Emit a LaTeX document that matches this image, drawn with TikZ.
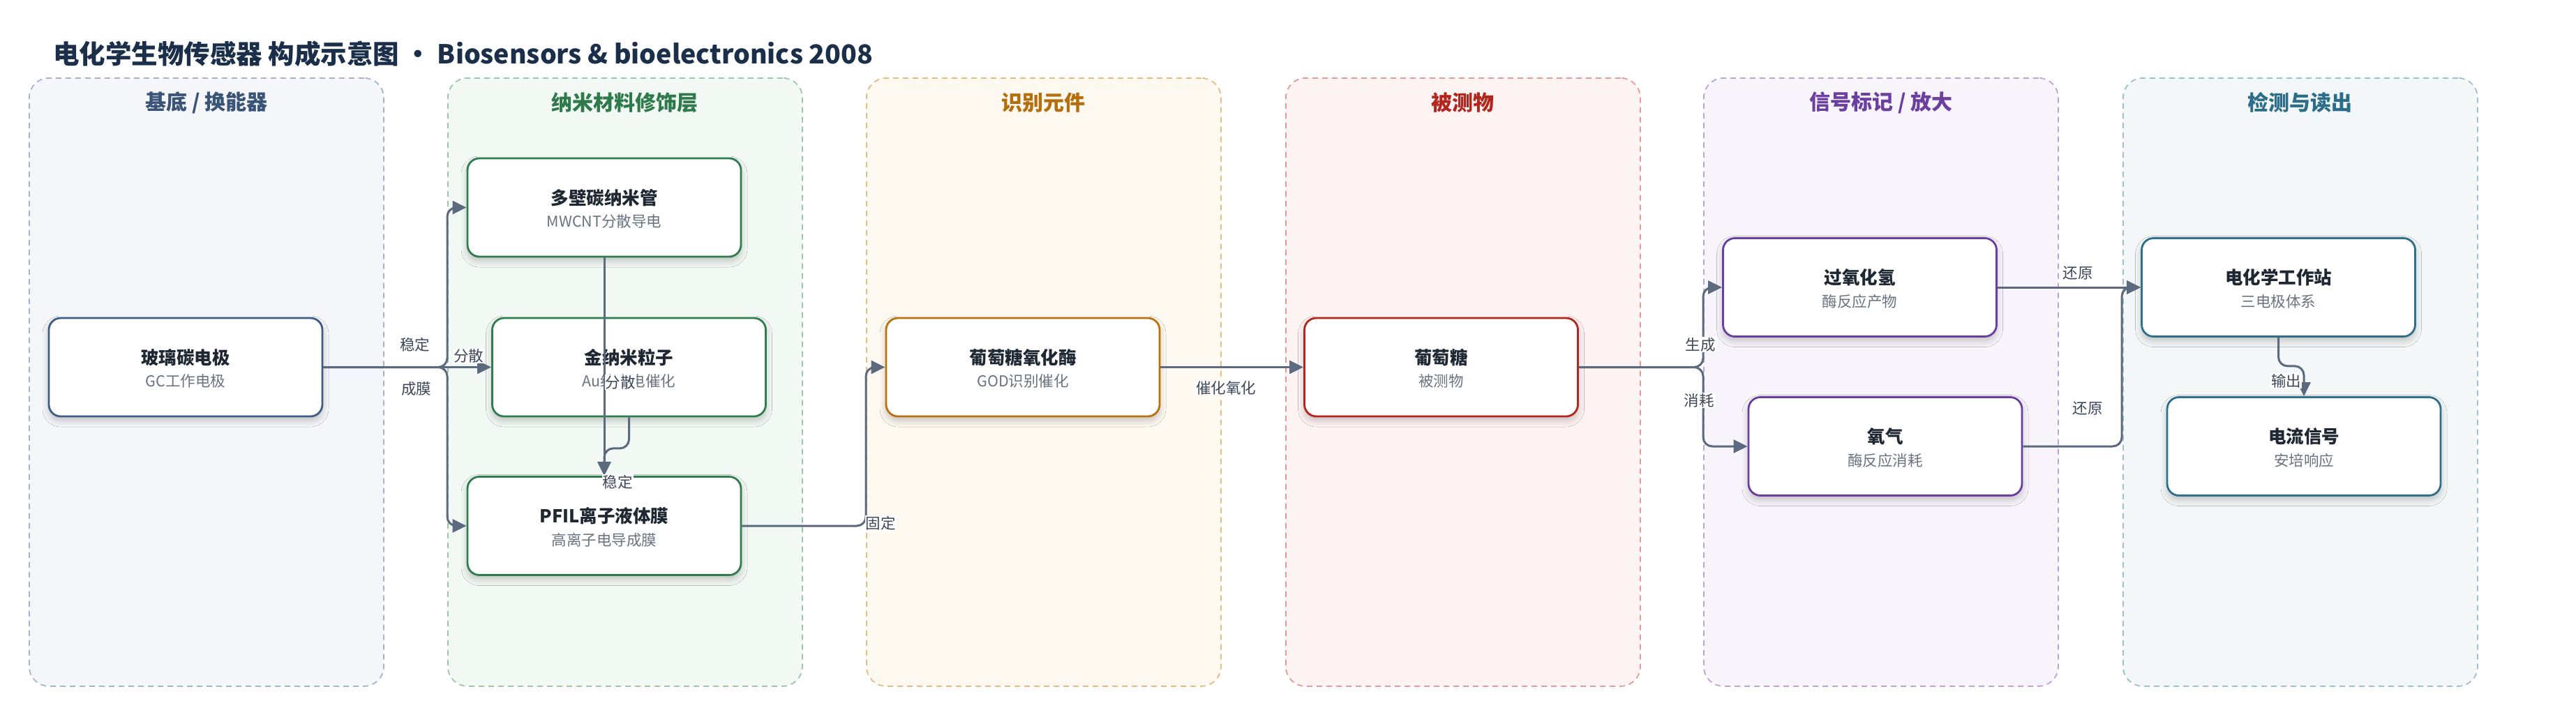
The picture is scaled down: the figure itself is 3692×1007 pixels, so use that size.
\documentclass[tikz,border=0pt]{standalone}
\usepackage{fontspec}
\setmainfont{Noto Sans CJK SC}
\usetikzlibrary{arrows.meta,shadows.blur}
\definecolor{titlec}{HTML}{1B2F4B}
\definecolor{ntext}{HTML}{1E2732}
\definecolor{stext}{HTML}{6A7380}
\definecolor{ltext}{HTML}{3D4757}
\definecolor{edgec}{HTML}{5B6A7F}
\definecolor{fA}{HTML}{F5F6FA}\definecolor{bA}{HTML}{A5B4CB}\definecolor{hA}{HTML}{3A5478}\definecolor{nA}{HTML}{3E5C85}
\definecolor{fB}{HTML}{F2F8F4}\definecolor{bB}{HTML}{9CC7AA}\definecolor{hB}{HTML}{2E7A4A}\definecolor{nB}{HTML}{2F7D4E}
\definecolor{fC}{HTML}{FDF8F0}\definecolor{bC}{HTML}{E3BC80}\definecolor{hC}{HTML}{B46E0C}\definecolor{nC}{HTML}{B8720F}
\definecolor{fD}{HTML}{FDF3F2}\definecolor{bD}{HTML}{E39A98}\definecolor{hD}{HTML}{B3261E}\definecolor{nD}{HTML}{B3261E}
\definecolor{fE}{HTML}{F7F4FB}\definecolor{bE}{HTML}{BCA4D9}\definecolor{hE}{HTML}{6B3FA0}\definecolor{nE}{HTML}{6A3DA0}
\definecolor{fF}{HTML}{F3F7F8}\definecolor{bF}{HTML}{9CC0CD}\definecolor{hF}{HTML}{2C6E8A}\definecolor{nF}{HTML}{2E6F8B}
\tikzset{
  lanebox/.style={rectangle, rounded corners=28pt, dash pattern=on 8pt off 6pt, line width=1.8pt, minimum width=508pt, minimum height=872pt, inner sep=0pt},
  lanehead/.style={font=\fontsize{30}{36}\selectfont\bfseries, inner sep=0pt},
  nodebox/.style={rectangle, rounded corners=17pt, line width=2.8pt, fill=white, minimum width=392pt, minimum height=141pt, inner sep=0pt,
     blur shadow={shadow xshift=0pt, shadow yshift=-6pt, shadow blur radius=9pt, shadow opacity=22}},
  ntitle/.style={font=\fontsize{25.5}{30}\selectfont\bfseries, text=ntext, inner sep=0pt},
  nsub/.style={font=\fontsize{21.5}{26}\selectfont, text=stext, inner sep=0pt},
  conn/.style={draw=edgec, line width=3pt, rounded corners=13pt, -{Triangle[length=20pt,width=19pt]}},
  elabel/.style={font=\fontsize{21.5}{26}\selectfont, text=ltext, inner sep=1pt},
  wlabel/.style={elabel, fill=white},
}
\newcommand{\lanemk}[6]{% name, x-left, fill, border, headcolor, header
  \node[lanebox, fill=#3, draw=#4, anchor=north west] (#1) at (#2,111) {};
  \node[lanehead, text=#5] (#1h) at ([yshift=-36pt]#1.north) {#6};
}
\newcommand{\boxmk}[6]{% name, cx, cy, color, title, sub
  \node[nodebox, draw=#4] (#1) at (#2,#3) {};
  \node[ntitle] (#1t) at ([yshift=14pt]#1.center) {#5};
  \node[nsub] (#1s) at ([yshift=-20pt]#1.center) {#6};
}
\begin{document}
\begin{tikzpicture}[x=1pt,y=-1pt]
\useasboundingbox[fill=white] (0,0) rectangle (3692,1007);
\node[anchor=west, font=\fontsize{37.5}{44}\selectfont\bfseries, text=titlec, inner sep=0pt] (title) at (76,77) {电化学生物传感器 构成示意图 · Biosensors \& bioelectronics 2008};
% lanes
\lanemk{laneA}{41}{fA}{bA}{hA}{基底 / 换能器}
\lanemk{laneB}{641}{fB}{bB}{hB}{纳米材料修饰层}
\lanemk{laneC}{1241}{fC}{bC}{hC}{识别元件}
\lanemk{laneD}{1842}{fD}{bD}{hD}{被测物}
\lanemk{laneE}{2441}{fE}{bE}{hE}{信号标记 / 放大}
\lanemk{laneF}{3042}{fF}{bF}{hF}{检测与读出}
% nodes
\boxmk{gc}{266}{526.5}{nA}{玻璃碳电极}{GC工作电极}
\boxmk{mw}{866}{297.5}{nB}{多壁碳纳米管}{MWCNT分散导电}
\boxmk{au}{901.5}{526.5}{nB}{金纳米粒子}{Au纳米电催化}
\boxmk{pf}{866}{754}{nB}{PFIL离子液体膜}{高离子电导成膜}
\boxmk{god}{1466}{526.5}{nC}{葡萄糖氧化酶}{GOD识别催化}
\boxmk{glu}{2065.5}{526.5}{nD}{葡萄糖}{被测物}
\boxmk{hp}{2665.5}{412}{nE}{过氧化氢}{酶反应产物}
\boxmk{ox}{2702}{640}{nE}{氧气}{酶反应消耗}
\boxmk{ec}{3265.5}{412}{nF}{电化学工作站}{三电极体系}
\boxmk{cs}{3302}{640}{nF}{电流信号}{安培响应}
% junction coordinates
\coordinate (j1) at (641,526.5);
\coordinate (j2) at (1241,754);
\coordinate (j3) at (2441,526.5);
\coordinate (j4) at (3041,640);
% connectors
\draw[conn] (gc.east) -- (j1) |- (mw.west);
\draw[conn] (gc.east) -- (j1) |- (pf.west);
\draw[conn] (gc.east) -- (au.west);
\draw[conn] (mw.south) -- (pf.north);
\draw[conn] (au.south) -- ++(0,44.5) -| (pf.north);
\draw[conn] (pf.east) -- (j2) |- (god.west);
\draw[conn] (god.east) -- (glu.west);
\draw[conn] (glu.east) -- (j3) |- (hp.west);
\draw[conn] (glu.east) -- (j3) |- (ox.west);
\draw[conn] (hp.east) -- (ec.west);
\draw[conn] (ox.east) -- (j4) |- (ec.west);
\draw[conn] (ec.south) -- ++(0,41) -| (cs.north);
% labels
\node[elabel] (l1) at (594.5,494) {稳定};
\node[elabel] (l2) at (596.5,557.5) {成膜};
\node[wlabel] (l3) at (671.5,510.5) {分散};
\node[wlabel] (l4) at (889,548) {分散};
\node[wlabel] (l5) at (885,691) {稳定};
\node[wlabel] (l6) at (1262,750) {固定};
\node[wlabel] (l7) at (1757,556) {催化氧化};
\node[wlabel] (l8) at (2437,494) {生成};
\node[wlabel] (l9) at (2435,574) {消耗};
\node[wlabel] (l10) at (2978,392) {还原};
\node[wlabel] (l11) at (2992,586) {还原};
\node[wlabel] (l12) at (3276.5,546) {输出};
\end{tikzpicture}
\end{document}
